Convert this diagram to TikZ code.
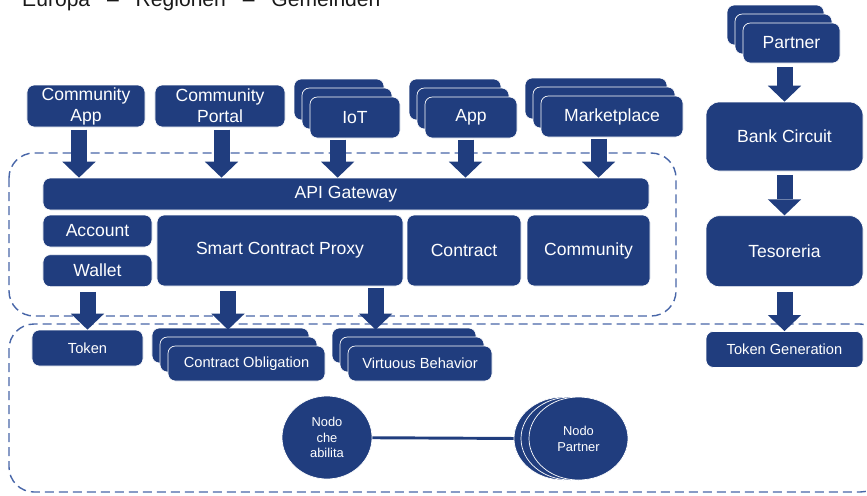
\documentclass[tikz,border=0pt]{standalone}
\usepackage{fontspec}
\setmainfont{Liberation Sans}
\usetikzlibrary{arrows.meta, positioning, shapes.geometric, shadows}
\definecolor{navy}{RGB}{32,61,126}
\definecolor{dashblue}{RGB}{72,102,168}

\begin{document}
\begin{tikzpicture}[
    x=0.03cm, y=-0.03cm,
    box/.style={rectangle, draw=white, line width=0.6pt, fill=navy, text=white, rounded corners=0.22cm, align=center, inner sep=1pt, font=\fontsize{15}{18}\selectfont},
    smallbox/.style={box, font=\fontsize{12.5}{15}\selectfont},
    bigbox/.style={box, rounded corners=0.4cm, minimum width=4.71cm},
    stack/.style={
        copy shadow={fill=navy, draw=white, line width=0.6pt, shadow xshift=-0.48cm, shadow yshift=0.54cm},
        copy shadow={fill=navy, draw=white, line width=0.6pt, shadow xshift=-0.24cm, shadow yshift=0.27cm}},
    nodo/.style={ellipse, draw=white, line width=0.6pt, fill=navy, text=white, align=center, inner sep=0pt, font=\fontsize{11}{13.5}\selectfont},
    nodostack/.style={
        copy shadow={fill=navy, draw=white, line width=0.6pt, shadow xshift=-0.45cm, shadow yshift=0cm},
        copy shadow={fill=navy, draw=white, line width=0.6pt, shadow xshift=-0.24cm, shadow yshift=0cm}},
    blockarrow/.style={draw=navy, line width=0.48cm, -{Triangle[length=0.48cm, width=1.0cm, line width=0pt]}},
    frame/.style={draw=dashblue, line width=1.2pt, dash pattern=on 0.27cm off 0.15cm, rounded corners=0.75cm},
]
\useasboundingbox (0,0) rectangle (867,495);
\clip (0,0) rectangle (867,495);

\node[anchor=base west, inner sep=0pt, text=black!90, font=\fontsize{18}{20}\selectfont] (title) at (22,6)
    {Europa\hskip0.8em--\hskip0.8em Regionen\hskip0.8em--\hskip0.8em Gemeinden};

% dashed areas
\draw[frame] (9,153) rectangle (676,316);
\draw[frame] (9,324) rectangle (885,492);

% clients
\node[box, minimum width=3.54cm, minimum height=1.26cm] (capp) at (86,106) {Community\\App};
\node[box, minimum width=3.9cm, minimum height=1.26cm] (cportal) at (220,106) {Community\\Portal};
\node[box, stack, minimum width=2.7cm, minimum height=1.23cm] (iot) at (355,117.5) {IoT};
\node[box, stack, minimum width=2.76cm, minimum height=1.23cm] (app) at (471,117.5) {App};
\node[box, stack, minimum width=4.26cm, minimum height=1.23cm] (market) at (612,116.5) {Marketplace};

% platform
\node[box, minimum width=18.18cm, minimum height=0.96cm] (gw) at (346,194) {API Gateway};
\node[box, minimum width=3.27cm, minimum height=0.96cm] (account) at (97.5,231) {Account};
\node[box, minimum width=3.27cm, minimum height=0.96cm, below=0.21cm of account] (wallet) {Wallet};
\node[box, minimum width=7.38cm, minimum height=2.13cm] (scp) at (280,250.5) {Smart Contract Proxy};
\node[box, minimum width=3.42cm, minimum height=2.13cm] (contract) at (464,250.5) {Contract};
\node[box, minimum width=3.69cm, minimum height=2.13cm] (community) at (588.5,250.5) {Community};

% chain
\node[smallbox, minimum width=3.33cm, minimum height=1.08cm] (token) at (87.5,348) {Token};
\node[smallbox, stack, minimum width=4.71cm, minimum height=1.05cm] (cobl) at (246.5,363.5) {Contract Obligation};
\node[smallbox, stack, minimum width=4.32cm, minimum height=1.05cm] (virt) at (420,363.5) {Virtuous Behavior};

% bank side
\node[box, stack, minimum width=2.91cm, minimum height=1.2cm] (partner) at (791.5,43) {Partner};
\node[bigbox, minimum height=2.07cm] (bank) at (784.5,136.5) {Bank Circuit};
\node[bigbox, minimum height=2.13cm, below=1.32cm of bank] (tes) {Tesoreria};
\node[smallbox, minimum width=4.71cm, minimum height=1.08cm, below=1.32cm of tes] (tokgen) {Token Generation};

% nodes
\draw[navy, line width=2.5pt] (327,437.5) -- (520,438.5);
\node[nodo, minimum width=2.7cm, minimum height=2.49cm] (nca) at (327,437.5) {Nodo\\che\\abilita};
\node[nodo, nodostack, minimum width=2.97cm, minimum height=2.49cm] (np) at (578.5,438.5) {Nodo\\Partner};

% arrows
\draw[blockarrow] ([xshift=-0.21cm, yshift=-2pt]capp.south) -- ([xshift=-0.21cm]capp.south |- gw.north);
\draw[blockarrow] ([xshift=0.045cm, yshift=-2pt]cportal.south) -- ([xshift=0.045cm]cportal.south |- gw.north);
\draw[blockarrow] ([xshift=-0.52cm, yshift=-1pt]iot.south) -- ([xshift=-0.52cm]iot.south |- gw.north);
\draw[blockarrow] ([xshift=-0.165cm, yshift=-1pt]app.south) -- ([xshift=-0.165cm]app.south |- gw.north);
\draw[blockarrow] ([xshift=-0.405cm, yshift=-1pt]market.south) -- ([xshift=-0.405cm]market.south |- gw.north);

\draw[blockarrow] ([yshift=-4pt]wallet.south -| token.north) -- (token.north);
\draw[blockarrow] ([xshift=-1.56cm, yshift=-4pt]scp.south) -- ([xshift=-1.56cm]scp.south |- token.north);
\draw[blockarrow] ([xshift=2.87cm, yshift=-1pt]scp.south) -- ([xshift=2.87cm]scp.south |- token.north);

\draw[blockarrow] ([yshift=-3pt]partner.south -| bank.north) -- (bank.north);
\draw[blockarrow] ([yshift=-3pt]bank.south) -- (tes.north);
\draw[blockarrow] ([yshift=-4pt]tes.south) -- (tes.south |- tokgen.north);

\end{tikzpicture}
\end{document}
